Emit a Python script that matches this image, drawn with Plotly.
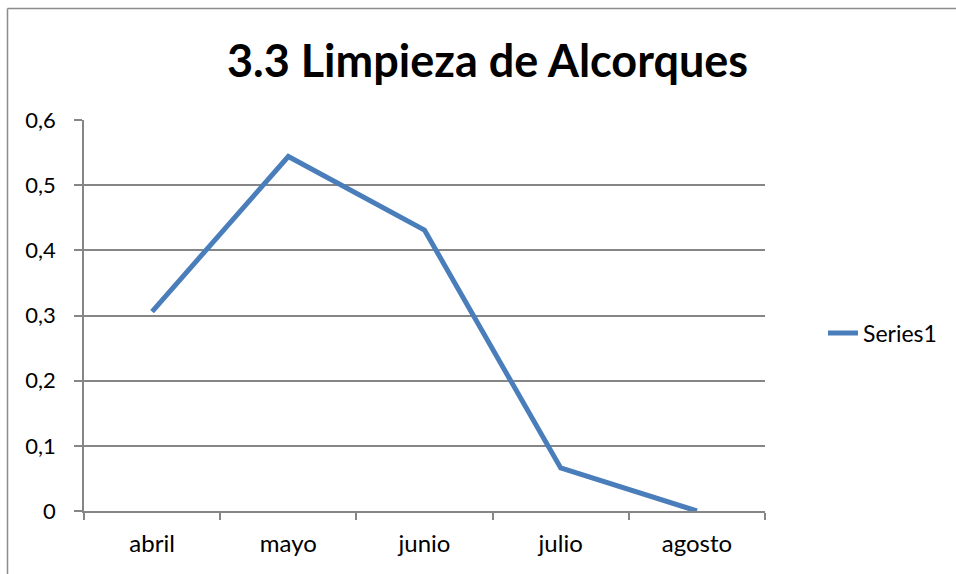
import plotly.graph_objects as go

months = ["abril", "mayo", "junio", "julio", "agosto"]
values = [0.306, 0.544, 0.431, 0.066, 0.0]
series_name = "Series1"
title_text = "3.3 Limpieza de Alcorques"

W, H = 956, 574
L, R, T, B = 84, 191, 120, 63
pw = W - L - R
ph = H - T - B

def px_x(p):
    return (p - L) / pw

def px_y(p):
    return (H - B - p) / ph

FONT = "Lato"
GRID = "#868686"
BORDER = "#8c8c8c"

fig = go.Figure()
fig.add_trace(go.Scatter(
    x=months, y=values, mode="lines", name=series_name,
    line=dict(color="#4a7ebb", width=5),
))

fig.update_layout(
    width=W, height=H,
    margin=dict(l=L, r=R, t=T, b=B),
    paper_bgcolor="white", plot_bgcolor="white",
    separators=", ",
    font=dict(family=FONT, color="black", size=22),
    title=dict(text="<b>" + title_text + "</b>", x=487.5 / W, xanchor="center",
               y=1 - 61 / H, yanchor="middle",
               font=dict(family=FONT, size=45, color="black")),
    showlegend=True,
    legend=dict(x=px_x(823), xanchor="left", y=px_y(333), yanchor="middle",
                font=dict(family=FONT, size=23), bgcolor="rgba(0,0,0,0)"),
    xaxis=dict(type="category", showgrid=False, showline=True, linecolor=GRID, linewidth=1.5,
               ticks="outside", tickson="boundaries", ticklen=7, tickcolor=GRID, tickwidth=1.5,
               tickfont=dict(family=FONT, size=24), range=[-0.5, 4.5], fixedrange=True,
               ticklabelstandoff=10),
    yaxis=dict(range=[0, 0.6], dtick=0.1, tick0=0, showgrid=True, gridcolor=GRID, gridwidth=1.5,
               showline=True, linecolor=GRID, linewidth=1.5, zeroline=False,
               ticks="outside", ticklen=8, tickcolor=GRID, tickwidth=1.5,
               tickfont=dict(family=FONT, size=22), ticklabelstandoff=14),
    shapes=[
        dict(type="line", xref="paper", yref="paper",
             x0=px_x(7.5), x1=px_x(W + 5), y0=px_y(8.5), y1=px_y(8.5),
             line=dict(color=BORDER, width=1.5), layer="below"),
        dict(type="line", xref="paper", yref="paper",
             x0=px_x(7.5), x1=px_x(7.5), y0=px_y(8.5), y1=px_y(H + 5),
             line=dict(color=BORDER, width=1.5), layer="below"),
    ],
)

fig.write_html(
    "out.html",
    config={"displayModeBar": False},
    post_script="document.body.style.margin='0';document.body.style.overflow='hidden';",
)
